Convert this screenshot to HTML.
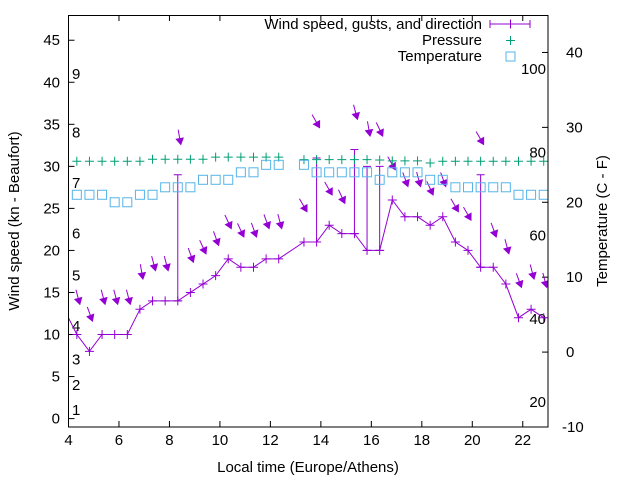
<!DOCTYPE html>
<html><head><meta charset="utf-8"><style>
body{margin:0;background:#fff}
svg{display:block;font-family:"Liberation Sans",sans-serif}
</style></head><body>
<svg id="chart" width="640" height="480" viewBox="0 0 640 480" xmlns="http://www.w3.org/2000/svg">
<defs><clipPath id="clip"><rect x="68.5" y="15" width="479.5" height="412"/></clipPath></defs>
<rect x="0" y="0" width="640" height="480" fill="#fff"/>
<g id="axes"></g>
<g id="series" clip-path="url(#clip)"></g>
<rect x="68.5" y="15.5" width="479.5" height="411.5" fill="none" stroke="#000" stroke-width="1"/>
<text transform="translate(19,221) rotate(-90)" text-anchor="middle" font-size="15">Wind speed (kn - Beaufort)</text>
<text transform="translate(607,221) rotate(-90)" text-anchor="middle" font-size="15">Temperature (C - F)</text>
<text x="308" y="472" text-anchor="middle" font-size="15">Local time (Europe/Athens)</text>
<g id="legend">
<text x="482" y="29" text-anchor="end" font-size="15">Wind speed, gusts, and direction</text>
<line x1="490" y1="24" x2="530" y2="24" stroke="#9400d3" stroke-width="1"/>
<line x1="490" y1="20" x2="490" y2="28" stroke="#9400d3"/><line x1="530" y1="20" x2="530" y2="28" stroke="#9400d3"/>
<path d="M506,24h9M510.5,19.5v9" stroke="#9400d3"/>
<text x="482" y="45" text-anchor="end" font-size="15">Pressure</text>
<path d="M506,40.5h9M510.5,36v9" stroke="#009e73"/>
<text x="482" y="61" text-anchor="end" font-size="15">Temperature</text>
<rect x="506" y="52" width="9" height="9" fill="none" stroke="#56b4e9"/>
</g>
</svg>
<script>
const times0 = 4.33;
const wind = [10,8,10,10,10,13,14,14,14,15,16,17,19,18,18,19,19,null,21,21,23,22,22,20,20,26,24,24,23,24,21,20,18,18,16,12,13,12];
const gustIdx = [8,19,22,23,24,32];
const gustVal = [29,31,32,30,30,29];
const pressure = [30.6,30.6,30.6,30.6,30.6,30.6,30.85,30.85,30.85,30.85,30.85,31.1,31.1,31.1,31.1,31.1,31.1,null,30.8,30.8,30.8,30.8,30.8,30.8,30.75,30.65,30.65,30.65,30.4,30.6,30.6,30.6,30.6,30.6,30.6,30.6,30.6,30.6];
const tempC = [21,21,21,20,20,21,21,22,22,22,23,23,23,24,24,25,25,null,25,24,24,24,24,24,23,24,24,24,23,23,22,22,22,22,22,21,21,21];
const windDir = [345,340,345,345,345,350,345,345,350,340,335,340,335,335,340,340,345,null,330,330,330,335,345,350,335,330,340,345,335,340,330,330,330,340,345,340,345,345];
const xTicks = [4,6,8,10,12,14,16,18,20,22];
const yTicks = [0,5,10,15,20,25,30,35,40,45];
const y2Ticks = [-10,0,10,20,30,40];
const bftLabels = ["1","2","3","4","5","6","7","8","9"];
const bftKn = [1,4,7,11,17,22,28,34,41];
const fLabels = ["20","40","60","80","100"];
const fVals = [20,40,60,80,100];
const prevWind = 13;

const L=68.5,R=548,T=15,B=427;
const xs=h=>L+(h-4)/(23-4)*(R-L);
const ys=v=>B-(v+1)/(48+1)*(B-T);
const y2=c=>B-(c+10)/55*(B-T);
const NS="http://www.w3.org/2000/svg";
function mk(tag,attrs,parent){const e=document.createElementNS(NS,tag);for(const k in attrs)e.setAttribute(k,attrs[k]);parent.appendChild(e);return e;}
const ax=document.getElementById('axes'),sr=document.getElementById('series');
xTicks.forEach(t=>{const x=xs(t);
 mk('path',{d:`M${x},${B}v-6M${x},${T}v6`,stroke:'#000'},ax);
 const tx=mk('text',{x:x,y:B+18,'text-anchor':'middle','font-size':15},ax);tx.textContent=t;
 
 });
yTicks.forEach(t=>{const y=ys(t);
 mk('path',{d:`M${L},${y}h6`,stroke:'#000'},ax);
 const tx=mk('text',{x:60,y:y+5,'text-anchor':'end','font-size':15},ax);tx.textContent=t;
 
 });
y2Ticks.forEach(t=>{const y=y2(t);
 mk('path',{d:`M${R},${y}h-6`,stroke:'#000'},ax);
 const tx=mk('text',{x:t<0?562:566,y:y+5,'font-size':15},ax);tx.textContent=t;
 
 });
bftLabels.forEach((s,i)=>{const tx=mk('text',{x:72,y:ys(bftKn[i])+5,'font-size':15},ax);tx.textContent=s;
 
 });
fLabels.forEach((s,i)=>{const tx=mk('text',{x:546,y:y2((fVals[i]-32)*5/9)+5,'text-anchor':'end','font-size':15},ax);tx.textContent=s;
 
 });
const P='#9400d3';
// wind line
let d=`M${xs(times0-0.5)},${ys(prevWind)}`;
wind.forEach((v,i)=>{if(v==null)return;d+=`L${xs(times0+0.5*i)},${ys(v)}`;});
const ln=mk('path',{d:d,fill:'none',stroke:P,'stroke-width':1},sr);


wind.forEach((v,i)=>{if(v==null)return;const x=xs(times0+0.5*i),y=ys(v);
 const m=mk('path',{d:`M${x-4.5},${y}h9M${x},${y-4.5}v9`,stroke:P},sr);
 
 });
gustIdx.forEach((i,k)=>{const x=xs(times0+0.5*i),y0=ys(wind[i]),y1=ys(gustVal[k]);
 const g=mk('path',{d:`M${x},${y0}V${y1}M${x-4},${y1}h8M${x-4},${y0}h8`,stroke:P},sr);
 
 });
// arrows
wind.forEach((v,i)=>{if(v==null)return;let top=v;const gi=gustIdx.indexOf(i);if(gi>=0)top=gustVal[gi];
 const a=windDir[i]*Math.PI/180,dx=-Math.sin(a),dy=Math.cos(a);
 const hx=xs(times0+0.5*i)+3,hy=ys(top+3.6);
 const tx=hx-dx*15,ty=hy-dy*15;
 const px=-dy,py=dx;
 const bx=hx-dx*6,by=hy-dy*6;
 const g=mk('g',{},sr);
 
 
 mk('line',{x1:tx,y1:ty,x2:bx,y2:by,stroke:P,'stroke-width':1},g);
 mk('polygon',{points:`${hx},${hy} ${bx+px*3.5},${by+py*3.5} ${bx-px*3.5},${by-py*3.5}`,fill:P,stroke:P},g);});
pressure.forEach((v,i)=>{if(v==null)return;const x=xs(times0+0.5*i),y=ys(v);
 const m=mk('path',{d:`M${x-4.5},${y}h9M${x},${y-4.5}v9`,stroke:'#009e73'},sr);
 
 });
tempC.forEach((v,i)=>{if(v==null)return;const x=xs(times0+0.5*i),y=y2(v);
 const m=mk('rect',{x:x-4.5,y:y-4.5,width:9,height:9,fill:'none',stroke:'#56b4e9'},sr);
 
 });
</script>
</body></html>
